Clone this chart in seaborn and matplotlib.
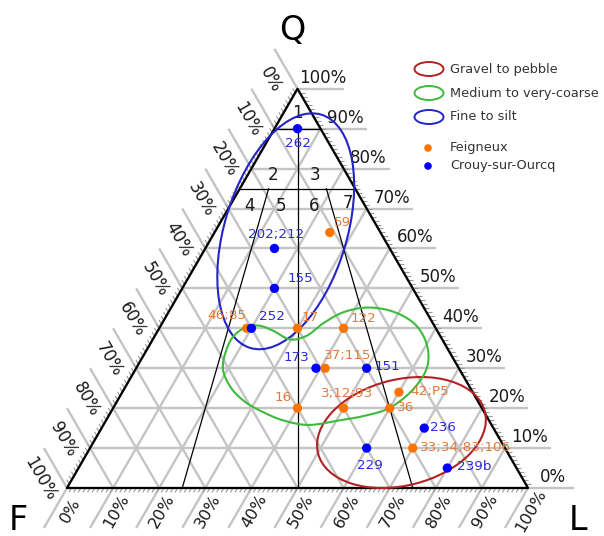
import numpy as np
import pandas as pd
import matplotlib
matplotlib.use("Agg")
import matplotlib.pyplot as plt
from matplotlib.patches import Ellipse
from matplotlib.collections import LineCollection
import seaborn as sns

# ---- sample compositions (Q %, L %; F = 100 - Q - L) ----
feigneux_labels = ["59", "46;85", "17", "122", "37;115", "16", "3;12;93", "36", "42;P5", "33;34;83;106"]
feigneux_q = [64, 40, 40, 40, 30, 20, 20, 20, 24, 10]
feigneux_l = [25, 19, 30, 40, 41, 40, 50, 60, 60, 70]

crouy_labels = ["262", "202;212", "155", "252", "173", "151", "236", "229", "239b"]
crouy_q = [90, 60, 50, 40, 30, 30, 15, 10, 5]
crouy_l = [5, 15, 20, 20, 39, 50, 70, 60, 80]

# label offsets (pixels right, pixels down) from each marker
feigneux_off = [(13, -10), (-20, -13), (13, -11), (20, -10), (23, -13), (-14, -11),
                (3, -15), (16, -1), (31, -1), (53, -1)]
crouy_off = [(0, 15), (2, -14), (26, -10), (21, -12), (-20, -11), (21, -2),
             (19, -1), (3, 17), (27, -2)]

# grain-size envelopes
gravel_center = (13.9, 65.6)          # Q, L
gravel_size = (0.373, 0.230, 14)      # width, height, angle
fine_center = (64.3, 15.3)
fine_size = (0.529, 0.265, 73)
medium_q = [30.4, 36.7, 39.9, 40.7, 39.4, 37.2, 38.2, 41.2, 44.0, 45.2, 44.2, 41.0,
            35.9, 30.2, 24.6, 20.1, 18.1, 17.1, 15.8, 16.8, 18.8, 21.6, 25.4]
medium_l = [18.6, 17.0, 18.2, 21.1, 25.0, 29.8, 33.0, 34.9, 37.9, 42.5, 48.6, 55.0,
            60.1, 63.0, 62.7, 60.0, 55.6, 51.3, 44.8, 38.9, 33.5, 27.8, 22.7]

# classification field numbers (label, Q, L)
field_labels = ["1", "2", "3", "4", "5", "6", "7"]
field_q = [94.0, 78.5, 78.5, 70.6, 70.6, 70.6, 71.4]
field_l = [3.0, 5.5, 14.6, 4.2, 11.1, 18.3, 25.3]

tick_values = list(range(0, 101, 10))

H = np.sqrt(3) / 2
PX = 461.0


def tern(q, l):
    q = np.asarray(q, dtype=float) / 100.0
    l = np.asarray(l, dtype=float) / 100.0
    return l + q / 2, q * H


def px(x, y):
    return (x - 67) / PX, (488 - y) / PX


def closed_spline(xs, ys, n=24):
    P = np.column_stack([xs, ys])
    N = len(P)
    t = np.linspace(0, 1, n, endpoint=False)[:, None]
    segs = []
    for i in range(N):
        p0, p1, p2, p3 = P[i - 1], P[i], P[(i + 1) % N], P[(i + 2) % N]
        segs.append(0.5 * (2 * p1 + (-p0 + p2) * t + (2 * p0 - 5 * p1 + 4 * p2 - p3) * t ** 2
                           + (-p0 + 3 * p1 - 3 * p2 + p3) * t ** 3))
    out = np.vstack(segs)
    return np.vstack([out, out[:1]])


sns.set_theme(style="white")
plt.rcParams["font.family"] = ["DejaVu Sans"]

fig = plt.figure(figsize=(6.04, 5.36), dpi=100)
ax = fig.add_axes([0, 0, 1, 1])
ax.set_xlim(-67 / PX, 537 / PX)
ax.set_ylim(-48 / PX, 488 / PX)
ax.axis("off")

GRID = "#c4c4c4"
TXT = "#1a1a1a"
E = 0.1

# grid lines with their outside extensions and labels
for v in tick_values:
    # constant Q (horizontal)
    x0, y0 = tern(v, 0)
    x1, y1 = tern(v, 100 - v)
    ax.plot([x0, x1 + E], [y0, y1], color=GRID, lw=1.7, zorder=1, solid_capstyle="butt")
    ax.text(x1 + 25 / PX, y1 + 11 / PX, f"{v}%", fontsize=12, color=TXT,
            ha="center", va="center")
    # constant F (parallel to right edge)
    xa, ya = tern(100 - v, 0)
    xb, yb = tern(0, 100 - v)
    ax.plot([xa - 0.5 * E, xb], [ya + H * E, yb], color=GRID, lw=1.7, zorder=1,
            solid_capstyle="butt")
    ax.text(xa - 27 / PX, ya + 9 / PX, f"{v}%", fontsize=12, color=TXT,
            ha="center", va="center", rotation=-60, rotation_mode="anchor")
    # constant L (parallel to left edge)
    xa, ya = tern(0, v)
    xb, yb = tern(100 - v, v)
    ax.plot([xa - 0.5 * E, xb], [ya - H * E, yb], color=GRID, lw=1.7, zorder=1,
            solid_capstyle="butt")
    ax.text(xa + 3 / PX, ya - 23 / PX, f"{v}%", fontsize=11.7, color=TXT,
            ha="center", va="center", rotation=60, rotation_mode="anchor")

# minor ticks along the edges
tl = 5 / PX
segs = []
for v in range(1, 100):
    x, y = tern(100 - v, 0)
    segs.append([(x, y), (x - 0.5 * tl, y + H * tl)])
    x, y = tern(0, v)
    segs.append([(x, y), (x - 0.5 * tl, y - H * tl)])
    x, y = tern(v, 100 - v)
    segs.append([(x, y), (x + tl, y)])
ax.add_collection(LineCollection(segs, colors="#9a9a9a", linewidths=0.8, zorder=2))

# triangle outline
tx, ty = tern([0, 0, 100, 0], [0, 100, 0, 0])
ax.plot(tx, ty, color="black", lw=1.6, zorder=3)

# classification boundaries
bounds = [((90, 0), (90, 10)), ((75, 0), (75, 25)), ((90, 5), (0, 50)),
          ((75, 6.25), (0, 25)), ((75, 18.75), (0, 75))]
for (qa, la), (qb, lb) in bounds:
    bx, by = tern([qa, qb], [la, lb])
    ax.plot(bx, by, color="black", lw=0.9, zorder=3)

fx, fy = tern(field_q, field_l)
for lab, x, y in zip(field_labels, fx, fy):
    ax.text(x, y, lab, fontsize=12, color=TXT, ha="center", va="center", zorder=4)

# grain-size envelopes
RED, GREEN, BLUE = "#b22222", "#3cbb3c", "#2424c8"
cx, cy = tern(*gravel_center)
ax.add_patch(Ellipse((cx, cy), gravel_size[0], gravel_size[1], angle=gravel_size[2],
                     fill=False, edgecolor=RED, lw=1.5, zorder=4))
cx, cy = tern(*fine_center)
ax.add_patch(Ellipse((cx, cy), fine_size[0], fine_size[1], angle=fine_size[2],
                     fill=False, edgecolor=BLUE, lw=1.5, zorder=4))
gx, gy = tern(medium_q, medium_l)
curve = closed_spline(gx, gy)
ax.plot(curve[:, 0], curve[:, 1], color=GREEN, lw=1.5, zorder=4)

# sample points
ORANGE, ORANGE_TXT = "#ff7400", "#e07b39"
BLUE_PT, BLUE_TXT = "#0000ff", "#2b2bd9"
df = pd.DataFrame({
    "site": ["Feigneux"] * len(feigneux_q) + ["Crouy-sur-Ourcq"] * len(crouy_q),
    "label": feigneux_labels + crouy_labels,
    "Q": feigneux_q + crouy_q,
    "L": feigneux_l + crouy_l,
    "off": feigneux_off + crouy_off,
})
df["x"], df["y"] = tern(df["Q"], df["L"])
sns.scatterplot(data=df, x="x", y="y", hue="site",
                palette={"Feigneux": ORANGE, "Crouy-sur-Ourcq": BLUE_PT},
                s=45, edgecolor="none", legend=False, ax=ax, zorder=6)
for _, r in df.iterrows():
    col = ORANGE_TXT if r["site"] == "Feigneux" else BLUE_TXT
    dx, dy = r["off"]
    ax.annotate(r["label"], (r["x"], r["y"]), xytext=(dx * 0.72, -dy * 0.72),
                textcoords="offset points", ha="center", va="center",
                fontsize=9.7, color=col, zorder=7)

# vertex letters
ax.text(*px(292, 31), "Q", fontsize=24, color="black", ha="center", va="center")
ax.text(*px(18, 521), "F", fontsize=24, color="black", ha="center", va="center")
ax.text(*px(578, 521), "L", fontsize=24, color="black", ha="center", va="center")

# legend
LEG = "#333333"
for (y, col, name) in [(69, RED, "Gravel to pebble"), (93, GREEN, "Medium to very-coarse"),
                       (117, BLUE, "Fine to silt")]:
    ax.add_patch(Ellipse(px(429, y), 29 / PX, 14 / PX, fill=False, edgecolor=col, lw=1.4))
    ax.text(*px(450, y), name, fontsize=9.3, color=LEG, ha="left", va="center")
for (y, col, name) in [(148, ORANGE, "Feigneux"), (166, BLUE_PT, "Crouy-sur-Ourcq")]:
    ax.scatter(*px(428, y), s=30, color=col, edgecolor="none")
    ax.text(*px(450, y), name, fontsize=9.3, color=LEG, ha="left", va="center")

fig.savefig("out.png", dpi=100)
